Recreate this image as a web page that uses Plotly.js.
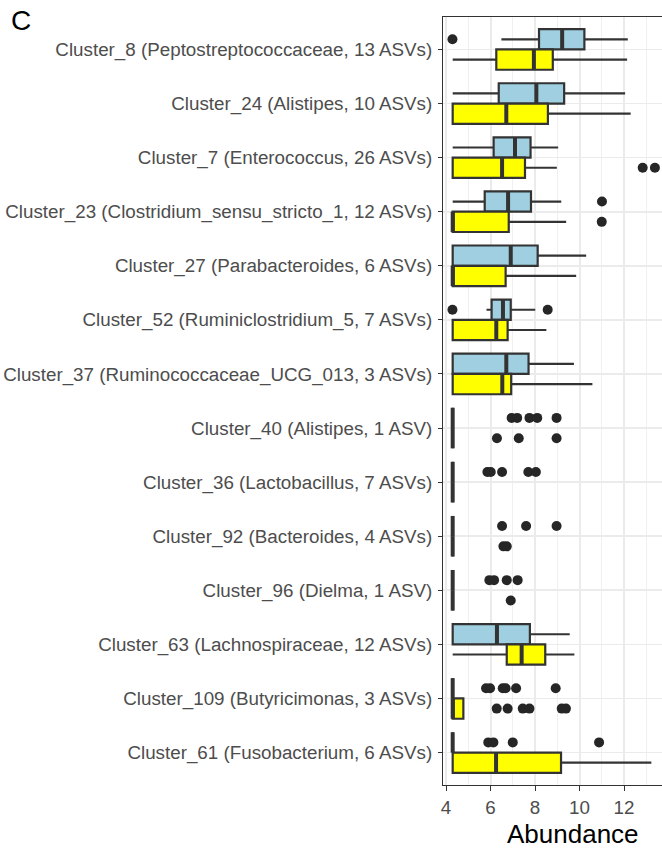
<!DOCTYPE html>
<html>
<head>
<meta charset="utf-8">
<script src="https://cdn.plot.ly/plotly-3.0.1.min.js"></script>
<style>
  html, body { margin: 0; padding: 0; background: #ffffff; overflow: hidden; }
  #chart { width: 662px; height: 848px; }
</style>
</head>
<body>
<div id="chart"></div>
<script>
// Cluster labels, top to bottom
const clusters = [
  "Cluster_8 (Peptostreptococcaceae, 13 ASVs)",
  "Cluster_24 (Alistipes, 10 ASVs)",
  "Cluster_7 (Enterococcus, 26 ASVs)",
  "Cluster_23 (Clostridium_sensu_stricto_1, 12 ASVs)",
  "Cluster_27 (Parabacteroides, 6 ASVs)",
  "Cluster_52 (Ruminiclostridium_5, 7 ASVs)",
  "Cluster_37 (Ruminococcaceae_UCG_013, 3 ASVs)",
  "Cluster_40 (Alistipes, 1 ASV)",
  "Cluster_36 (Lactobacillus, 7 ASVs)",
  "Cluster_92 (Bacteroides, 4 ASVs)",
  "Cluster_96 (Dielma, 1 ASV)",
  "Cluster_63 (Lachnospiraceae, 12 ASVs)",
  "Cluster_109 (Butyricimonas, 3 ASVs)",
  "Cluster_61 (Fusobacterium, 6 ASVs)"
];

// Group A (light blue boxes): whisker ends, quartiles, median, outliers
const lowA  = [6.49, 4.30, 4.30, 4.30, 4.30, 5.82, 4.30, 4.30, 4.30, 4.30, 4.30, 4.30, 4.30, 4.30];
const q1A   = [8.18, 6.37, 6.14, 5.74, 4.30, 6.05, 4.30, 4.30, 4.30, 4.30, 4.30, 4.30, 4.30, 4.30];
const medA  = [9.22, 8.06, 7.10, 6.79, 6.91, 6.56, 6.71, 4.30, 4.30, 4.30, 4.30, 6.29, 4.30, 4.30];
const q3A   = [10.22, 9.31, 7.80, 7.82, 8.12, 6.91, 7.71, 4.30, 4.30, 4.30, 4.30, 7.77, 4.30, 4.30];
const highA = [12.17, 12.05, 9.04, 9.18, 10.30, 8.01, 9.75, 4.30, 4.30, 4.30, 4.30, 9.56, 4.30, 4.30];
const outA  = [
  [4.29],
  [],
  [],
  [11.01],
  [],
  [4.29, 8.57],
  [],
  [6.95, 7.20, 7.75, 8.10, 8.97],
  [5.86, 6.01, 6.52, 7.70, 8.04],
  [6.52, 7.60, 8.97],
  [5.95, 6.16, 6.73, 7.22],
  [],
  [5.80, 5.98, 6.55, 6.68, 7.15, 8.93],
  [5.90, 6.13, 7.00, 10.88]
];

// Group B (yellow boxes)
const lowB  = [4.30, 4.30, 4.30, 4.30, 4.30, 4.30, 4.30, 4.30, 4.30, 4.30, 4.30, 4.30, 4.30, 4.30];
const q1B   = [6.26, 4.30, 4.30, 4.30, 4.30, 4.30, 4.30, 4.30, 4.30, 4.30, 4.30, 6.73, 4.30, 4.30];
const medB  = [7.95, 6.71, 6.52, 4.30, 4.30, 6.26, 6.53, 4.30, 4.30, 4.30, 4.30, 7.40, 4.30, 6.25];
const q3B   = [8.80, 8.58, 7.55, 6.82, 6.68, 6.77, 6.93, 4.30, 4.30, 4.30, 4.30, 8.46, 4.78, 9.17];
const highB = [12.14, 12.30, 8.98, 9.40, 9.85, 8.51, 10.58, 4.30, 4.30, 4.30, 4.30, 9.77, 4.78, 13.23];
const outB  = [
  [],
  [],
  [12.84, 13.39],
  [11.00],
  [],
  [],
  [],
  [6.29, 7.27, 8.97],
  [],
  [6.58, 6.73],
  [6.91],
  [],
  [6.28, 6.77, 7.45, 7.75, 9.20, 9.39],
  []
];

const xTickStart = 4, xTickStep = 2;

const fillA = "#9fcfe0";
const fillB = "#ffff00";
const edge = "#333333";
const boxWidth = 0.375;   // each box of a pair
const dodge = 0.1875;     // offset of each box from the category line
const positions = clusters.map((_, i) => i);

function boxTrace(low, q1, med, q3, high, shift, fill) {
  return {
    type: "box",
    orientation: "h",
    y: positions.map(p => p + shift),
    q1: q1, median: med, q3: q3,
    lowerfence: low, upperfence: high,
    width: boxWidth,
    fillcolor: fill,
    line: { color: edge, width: 2.2 },
    whiskerwidth: 0,
    boxpoints: false,
    hoverinfo: "skip",
    showlegend: false
  };
}

// heavier median bars
function medianTrace(med, shift) {
  const xs = [], ys = [];
  med.forEach((m, i) => {
    xs.push(m, m, null);
    ys.push(i + shift - boxWidth / 2, i + shift + boxWidth / 2, null);
  });
  return {
    type: "scatter", mode: "lines", x: xs, y: ys,
    line: { color: edge, width: 4 },
    hoverinfo: "skip", showlegend: false
  };
}

function outlierTrace(out, shift) {
  const xs = [], ys = [];
  out.forEach((vals, i) => vals.forEach(v => { xs.push(v); ys.push(i + shift); }));
  return {
    type: "scatter", mode: "markers", x: xs, y: ys,
    marker: { color: "#262626", size: 10, line: { width: 0 } },
    hoverinfo: "skip", showlegend: false
  };
}

const data = [
  boxTrace(lowA, q1A, medA, q3A, highA, -dodge, fillA),
  boxTrace(lowB, q1B, medB, q3B, highB, dodge, fillB),
  medianTrace(medA, -dodge),
  medianTrace(medB, dodge),
  outlierTrace(outA, -dodge),
  outlierTrace(outB, dodge)
];

const font = "Liberation Sans, Arial, Helvetica, sans-serif";

const layout = {
  width: 662, height: 848,
  margin: { l: 443, r: 0, t: 17, b: 63, pad: 0 },
  paper_bgcolor: "#ffffff",
  plot_bgcolor: "#ffffff",
  boxmode: "overlay",
  showlegend: false,
  font: { family: font, color: "#4d4d4d" },
  xaxis: {
    range: [3.865, 13.708],
    tickmode: "linear", tick0: xTickStart, dtick: xTickStep,
    ticks: "outside", ticklen: 5, tickwidth: 1, tickcolor: edge,
    tickfont: { family: font, size: 18.8, color: "#4d4d4d" },
    showline: true, linecolor: edge, linewidth: 1, mirror: true,
    showgrid: true, gridcolor: "#ebebeb", gridwidth: 2,
    minor: { dtick: 1, showgrid: true, gridcolor: "#f0f0f0", gridwidth: 1 },
    zeroline: false
  },
  yaxis: {
    range: [13.6, -0.6],
    tickmode: "array", tickvals: positions, ticktext: clusters,
    ticks: "outside", ticklen: 4, tickwidth: 1, tickcolor: edge,
    ticklabelstandoff: 2,
    tickfont: { family: font, size: 18.8, color: "#4d4d4d" },
    showline: true, linecolor: edge, linewidth: 1,
    showgrid: true, gridcolor: "#ebebeb", gridwidth: 1.6,
    zeroline: false
  },
  annotations: [
    {
      text: "Abundance", xref: "paper", yref: "paper",
      x: 0.5936, y: -0.064, xanchor: "center", yanchor: "middle",
      showarrow: false, font: { family: font, size: 26, color: "#000000" }
    },
    {
      text: "C", xref: "paper", yref: "paper",
      x: -1.9817, y: 0.995, xanchor: "left", yanchor: "middle",
      showarrow: false, font: { family: font, size: 28, color: "#000000" }
    }
  ]
};

Plotly.newPlot("chart", data, layout, { staticPlot: true, displayModeBar: false });
</script>
</body>
</html>
